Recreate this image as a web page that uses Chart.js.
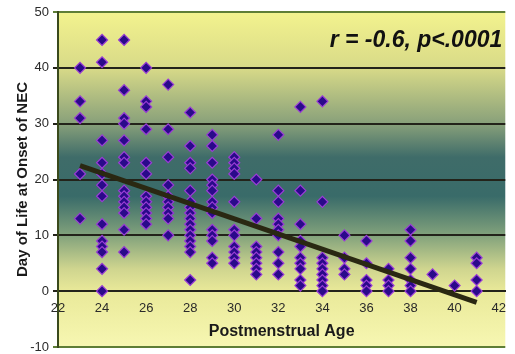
<!DOCTYPE html>
<html>
<head>
<meta charset="utf-8">
<script src="https://cdn.jsdelivr.net/npm/chart.js@4/dist/chart.umd.min.js"></script>
<style>
    body { margin: 0; background: #fff; }
    #wrap { width: 515px; height: 354px; }
</style>
</head>
<body>
<div id="wrap"><canvas id="scatterChart" width="515" height="354"></canvas></div>
<script>
// Postmenstrual age groups and day of life at NEC onset for each group
const ageGroups = [23, 24, 25, 26, 27, 28, 29, 30, 31, 32, 33, 34, 35, 36, 37, 38, 39, 40, 41];
const onsetDays = [
    [40, 34, 31, 21, 13],
    [45, 41, 27, 23, 21, 19, 17, 12, 9, 8, 7, 4, 0],
    [45, 36, 31, 30, 27, 24, 23, 18, 17, 16, 15, 14, 11, 7],
    [40, 34, 33, 29, 23, 21, 17, 16, 15, 14, 13, 12],
    [37, 29, 24, 19, 17, 16, 15, 14, 13, 10],
    [32, 26, 23, 22, 18, 16, 15, 14, 13, 12, 11, 10, 9, 8, 7, 2],
    [28, 26, 23, 20, 19, 18, 16, 15, 14, 11, 10, 9, 6, 5],
    [24, 23, 22, 21, 16, 11, 10, 8, 7, 6, 5],
    [20, 13, 8, 7, 6, 5, 4, 3],
    [28, 18, 16, 13, 12, 11, 10, 7, 5, 3],
    [33, 18, 12, 9, 8, 6, 5, 4, 2, 1],
    [34, 16, 6, 5, 4, 3, 2, 1, 0],
    [10, 6, 4, 3],
    [9, 5, 2, 1, 0],
    [4, 2, 1, 0],
    [11, 9, 6, 4, 2, 1, 0],
    [3],
    [1],
    [6, 5, 2, 0]
];

// regression line end points
const trendAges = [23, 41];
const trendDays = [22.5, -2];

const statText = 'r = -0.6, p<.0001';

const points = [];
ageGroups.forEach((age, i) => {
    onsetDays[i].forEach(d => points.push({ x: age, y: d }));
});
const trendPoints = trendAges.map((a, i) => ({ x: a, y: trendDays[i] }));

// background gradient: yellow - teal - yellow
const bgPlugin = {
    id: 'bgGradient',
    beforeDraw(chart) {
        const { ctx, chartArea: a, scales } = chart;
        const y = scales.y;
        const top = y.getPixelForValue(50), bottom = y.getPixelForValue(-10);
        const g = ctx.createLinearGradient(0, top, 0, bottom);
        const stop = (v, c) => g.addColorStop((y.getPixelForValue(v) - top) / (bottom - top), c);
        stop(50, '#f3f38e');
        stop(40, '#d8da88');
        stop(30, '#88a07a');
        stop(24, '#3f6c69');
        stop(17, '#396b69');
        stop(10, '#82a27c');
        stop(4, '#cfd58f');
        stop(0, '#e9e999');
        stop(-10, '#f7f7b2');
        ctx.save();
        ctx.fillStyle = g;
        ctx.fillRect(a.left, a.top, a.right - a.left, a.bottom - a.top);
        ctx.restore();
    },
    afterDraw(chart) {
        const { ctx, chartArea: a } = chart;
        ctx.save();
        ctx.font = 'italic bold 23px "Liberation Sans", Arial, sans-serif';
        ctx.fillStyle = '#111';
        ctx.textAlign = 'right';
        ctx.textBaseline = 'middle';
        ctx.fillText(statText, a.right - 3, 41);
        ctx.restore();
    }
};

const font = '"Liberation Sans", Arial, sans-serif';

new Chart(document.getElementById('scatterChart'), {
    type: 'scatter',
    data: {
        datasets: [{
            type: 'line',
            label: 'Trend',
            data: trendPoints,
            borderColor: '#2a2812',
            borderWidth: 5,
            pointRadius: 0,
            fill: false,
            order: 1
        }, {
            label: 'NEC',
            data: points,
            pointStyle: 'rectRot',
            pointRadius: 5.5,
            backgroundColor: '#2a0a8a',
            borderColor: '#9a3cd6',
            borderWidth: 1.2,
            order: 2
        }]
    },
    options: {
        responsive: false,
        animation: false,
        layout: { padding: { top: 12, bottom: 7, right: 0, left: 8 } },
        plugins: {
            legend: { display: false },
            tooltip: { enabled: false }
        },
        scales: {
            x: {
                type: 'linear',
                position: { y: 0 },
                min: 22,
                max: 42.3,
                ticks: {
                    stepSize: 2,
                    includeBounds: false,
                    padding: 9,
                    color: '#2a2a2a',
                    font: { family: font, size: 13 }
                },
                grid: { color: 'rgba(0,0,0,0)', drawTicks: false },
                border: { color: '#23231a', width: 2 },
                title: {
                    display: true,
                    text: 'Postmenstrual Age',
                    color: '#1a1a1a',
                    font: { family: font, size: 16, weight: 'bold' },
                    padding: { top: -3, bottom: 0 }
                }
            },
            y: {
                min: -10,
                max: 50,
                afterFit(scale) {
                    scale.width = 50;
                    scale.paddingTop = 0;
                    scale.paddingBottom = 0;
                },
                ticks: {
                    stepSize: 10,
                    padding: 4,
                    color: '#2a2a2a',
                    font: { family: font, size: 13 }
                },
                grid: {
                    color: ctx => (ctx.tick && (ctx.tick.value === 50 || ctx.tick.value === -10)) ? '#5e7e36' : '#23231a',
                    lineWidth: 2,
                    tickLength: 5
                },
                border: { color: '#3a4a1c', width: 2 },
                title: {
                    display: true,
                    text: 'Day of Life at Onset of NEC',
                    color: '#1a1a1a',
                    font: { family: font, size: 15, weight: 'bold' },
                    padding: { top: 6, bottom: 0 }
                }
            }
        }
    },
    plugins: [bgPlugin]
});
</script>
</body>
</html>
